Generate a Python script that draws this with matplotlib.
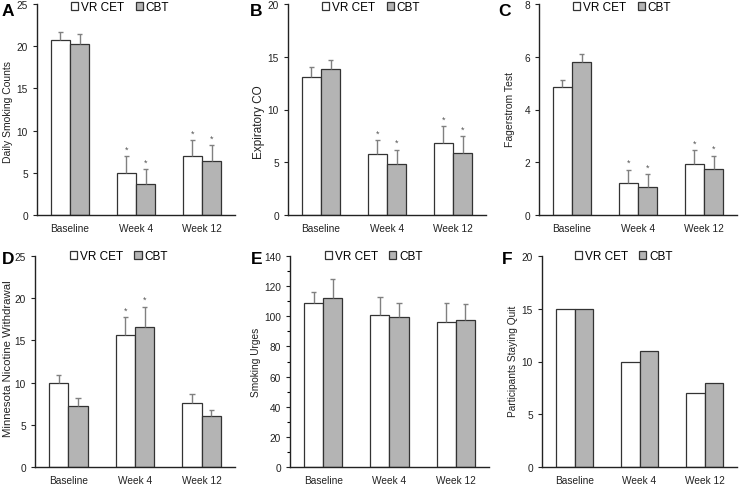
import matplotlib
matplotlib.use("Agg")
import matplotlib.pyplot as plt
import numpy as np
from matplotlib.patches import Patch

plt.rcParams["font.family"] = ["Liberation Sans", "DejaVu Sans"]

groups = ["Baseline", "Week 4", "Week 12"]
series = ["VR CET", "CBT"]

# panel A - daily smoking counts
a_vr = [20.7, 5.0, 7.0]
a_cbt = [20.3, 3.7, 6.4]
a_vr_err = [1.0, 2.0, 1.9]
a_cbt_err = [1.1, 1.7, 1.9]

# panel B - expiratory CO
b_vr = [13.1, 5.8, 6.8]
b_cbt = [13.8, 4.8, 5.9]
b_vr_err = [0.9, 1.3, 1.6]
b_cbt_err = [0.9, 1.4, 1.6]

# panel C - Fagerstrom test
c_vr = [4.87, 1.2, 1.93]
c_cbt = [5.8, 1.07, 1.73]
c_vr_err = [0.26, 0.52, 0.52]
c_cbt_err = [0.3, 0.48, 0.52]

# panel D - Minnesota nicotine withdrawal
d_vr = [9.9, 15.6, 7.6]
d_cbt = [7.2, 16.6, 6.1]
d_vr_err = [1.0, 2.2, 1.0]
d_cbt_err = [1.0, 2.4, 0.7]

# panel E - smoking urges
e_vr = [108.5, 101, 96]
e_cbt = [112, 99.5, 97.5]
e_vr_err = [7.5, 12, 13]
e_cbt_err = [12.5, 9.5, 10.5]

# panel F - participants staying quit
f_vr = [15, 10, 7]
f_cbt = [15, 11, 8]

a_stars = [False, True, True]
b_stars = [False, True, True]
c_stars = [False, True, True]
d_stars = [False, True, False]

GRAY = "#b4b4b4"
EDGE = "#333333"
ERR = "#808080"

fig = plt.figure(figsize=(7.41, 4.85), dpi=100)
W, H = 741.0, 485.0


def panel(box, ylabel, vr, cbt, ymax, step, vr_err=None, cbt_err=None,
          stars=None, minor=None, leg_y=0.985, lab_fs=7.5, lab_x=5, lab_y=None):
    x0, x1, ytop, ybot = box
    ax = fig.add_axes([x0 / W, 1 - ybot / H, (x1 - x0) / W, (ybot - ytop) / H])
    x = np.arange(len(groups))
    w = 0.29
    ax.bar(x - w / 2, vr, w, color="white", edgecolor=EDGE, linewidth=0.9, zorder=2)
    ax.bar(x + w / 2, cbt, w, color=GRAY, edgecolor=EDGE, linewidth=0.9, zorder=2)
    if vr_err is not None:
        for xs, vals, errs in [(x - w / 2, vr, vr_err), (x + w / 2, cbt, cbt_err)]:
            tops = np.array(vals) + np.array(errs)
            ax.vlines(xs, vals, tops, color=ERR, lw=1.0, zorder=3)
            ax.hlines(tops, xs - 0.04, xs + 0.04, color=ERR, lw=1.0, zorder=3)
            if stars is not None:
                for xi, t, s in zip(xs, tops, stars):
                    if s:
                        ax.text(xi, t + ymax * 0.012, "*", ha="center", va="bottom",
                                fontsize=6.5, color="#555555")
    ax.set_xlim(-0.5, 2.5)
    ax.set_ylim(0, ymax)
    ax.set_yticks(np.arange(0, ymax + step / 2, step))
    if minor:
        ax.set_yticks(np.arange(0, ymax + minor / 2, minor), minor=True)
        ax.tick_params(axis="y", which="minor", length=2.5, width=0.8, direction="out")
    ax.set_xticks(x)
    ax.set_xticklabels(groups)
    ax.tick_params(axis="x", length=0, labelsize=7.3, pad=6, colors="#222222")
    ax.tick_params(axis="y", length=3, width=0.8, labelsize=7.3, colors="#222222")
    for s in ["top", "right"]:
        ax.spines[s].set_visible(False)
    for s in ["left", "bottom"]:
        ax.spines[s].set_color("#222222")
        ax.spines[s].set_linewidth(1.0)
    ax.set_ylabel(ylabel, fontsize=lab_fs, color="#222222")
    # label centre (figure px) -> right edge of the rotated text in axes coords
    cy = (ytop + ybot) / 2 if lab_y is None else lab_y
    half = lab_fs * 100 / 72 * 0.55
    ax.yaxis.set_label_coords((lab_x + half - x0) / (x1 - x0),
                              (ybot - cy) / (ybot - ytop))
    handles = [Patch(facecolor="white", edgecolor=EDGE, lw=0.9),
               Patch(facecolor=GRAY, edgecolor=EDGE, lw=0.9)]
    ax.legend(handles, series, loc="center", bbox_to_anchor=(0.42, leg_y), ncol=2,
              frameon=False, fontsize=8.5, handlelength=0.6, handleheight=0.6,
              handletextpad=0.25, columnspacing=0.95, borderaxespad=0, borderpad=0)
    return ax


panel((37, 235, 5, 216), "Daily Smoking Counts", a_vr, a_cbt, 25, 5,
      a_vr_err, a_cbt_err, a_stars, lab_fs=7.5, lab_x=7, lab_y=112)
panel((288, 486, 5, 216), "Expiratory CO", b_vr, b_cbt, 20, 5,
      b_vr_err, b_cbt_err, b_stars, lab_fs=8.5, lab_x=259, lab_y=122)
panel((539, 737, 5, 216), "Fagerstrom Test", c_vr, c_cbt, 8, 2,
      c_vr_err, c_cbt_err, c_stars, lab_fs=7.5, lab_x=509, lab_y=110)
panel((35, 235, 257, 468), "Minnesota Nicotine Withdrawal", d_vr, d_cbt, 25, 5,
      d_vr_err, d_cbt_err, d_stars, leg_y=1.0, lab_fs=8.2, lab_x=7, lab_y=359)
panel((290, 489, 257, 468), "Smoking Urges", e_vr, e_cbt, 140, 20,
      e_vr_err, e_cbt_err, None, minor=10, leg_y=1.0, lab_fs=7.3, lab_x=255, lab_y=362)
panel((542, 737, 257, 468), "Participants Staying Quit", f_vr, f_cbt, 20, 5,
      leg_y=1.0, lab_fs=7.3, lab_x=512, lab_y=361)

for letter, px, py in [("A", 2, 12), ("B", 250, 12), ("C", 498, 12),
                       ("D", 2, 260), ("E", 251, 260), ("F", 502, 260)]:
    fig.text(px / W, 1 - py / H, letter, fontsize=12.5, fontweight="bold", va="center", ha="left")

fig.savefig("out.png", dpi=100)
